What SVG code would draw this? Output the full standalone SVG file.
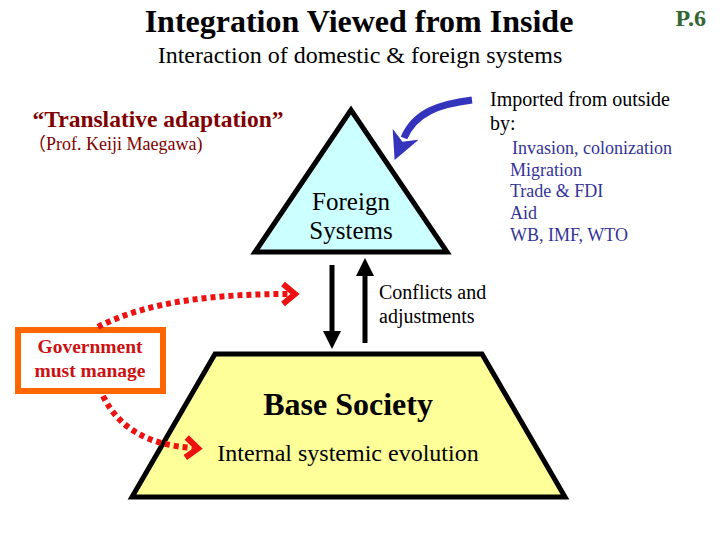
<svg xmlns="http://www.w3.org/2000/svg" width="720" height="540" viewBox="0 0 720 540" font-family="Liberation Serif, Times New Roman, serif">
<style>
.dot{fill:none;stroke:#ee1111;stroke-width:6;stroke-dasharray:5 4}
</style>
<defs>
<marker id="redHead" markerWidth="6" markerHeight="6" refX="3" refY="3" orient="auto" markerUnits="userSpaceOnUse" viewBox="0 0 6 6" overflow="visible">
<path d="M-4,-7 L8,3 L-4,13" fill="none" stroke="#ee1111" stroke-width="6" stroke-linejoin="miter"/>
</marker>
<marker id="blkHead" markerWidth="18" markerHeight="18" refX="0" refY="9" orient="auto" markerUnits="userSpaceOnUse" viewBox="0 0 18 18">
<path d="M0,0 L18,9 L0,18 Z" fill="#000"/>
</marker>
<marker id="blueHead" markerWidth="28" markerHeight="28" refX="4" refY="14" orient="auto" markerUnits="userSpaceOnUse" viewBox="0 0 28 28">
<path d="M0,0 L28,14 L0,28 L8,14 Z" fill="#3333bb"/>
</marker>
</defs>
<rect width="720" height="540" fill="#fff"/>
<g id="title">
<text x="359" y="32" text-anchor="middle" font-weight="bold" font-size="32">Integration Viewed from Inside</text>
<text x="706" y="26" text-anchor="end" font-weight="bold" font-size="24" fill="#336633">P.6</text>
<text x="360" y="63" text-anchor="middle" font-size="24">Interaction of domestic &amp; foreign systems</text>
</g>
<g id="translative">
<text x="158" y="127" text-anchor="middle" font-weight="bold" font-size="23.5" fill="#800000">“Translative adaptation”</text>
<text x="28" y="150" font-family="Liberation Serif, Noto Sans CJK JP, serif" font-size="18" fill="#800000">（Prof. Keiji Maegawa)</text>
</g>
<g id="foreign-systems">
<polygon points="351,110 255,252 447,252" fill="#ccffff" stroke="#000" stroke-width="5"/>
<text x="351" y="210" text-anchor="middle" font-size="25">Foreign</text>
<text x="351" y="239" text-anchor="middle" font-size="25">Systems</text>
</g>
<g id="base-society">
<polygon points="215,354 482,354 565,497 132,497" fill="#ffff99" stroke="#000" stroke-width="5"/>
<text x="348" y="415" text-anchor="middle" font-weight="bold" font-size="32">Base Society</text>
<text x="348" y="461" text-anchor="middle" font-size="24">Internal systemic evolution</text>
</g>
<g id="imported">
<text x="490" y="106" font-size="20">Imported from outside</text>
<text x="490" y="130" font-size="20">by:</text>
<g fill="#333399" font-size="18">
<text x="512" y="154">Invasion, colonization</text>
<text x="510" y="176">Migration</text>
<text x="510" y="197">Trade &amp; FDI</text>
<text x="510" y="219">Aid</text>
<text x="510" y="241">WB, IMF, WTO</text>
</g>
</g>
<g id="government">
<rect x="18" y="330" width="145" height="61" fill="#fff" stroke="#ff6600" stroke-width="6"/>
<text x="90" y="353" text-anchor="middle" font-weight="bold" font-size="19.5" fill="#cc1111">Government</text>
<text x="90" y="377" text-anchor="middle" font-weight="bold" font-size="19.5" fill="#cc1111">must manage</text>
</g>
<g id="conflicts-label">
<text x="379" y="299" font-size="20">Conflicts and</text>
<text x="379" y="323" font-size="20">adjustments</text>
</g>
<g id="connectors">
<path d="M472,100 C440,104 415,112 404,138" fill="none" stroke="#3333bb" stroke-width="7" marker-end="url(#blueHead)"/>
<line x1="332" y1="265" x2="332" y2="331" stroke="#000" stroke-width="5" marker-end="url(#blkHead)"/>
<line x1="365" y1="343" x2="365" y2="276" stroke="#000" stroke-width="5" marker-end="url(#blkHead)"/>
<path class="dot" d="M98,327 C150,300 220,294 290,294" marker-end="url(#redHead)"/>
<path class="dot" d="M103,396 C120,430 150,445 193,448" marker-end="url(#redHead)"/>
</g>
</svg>
